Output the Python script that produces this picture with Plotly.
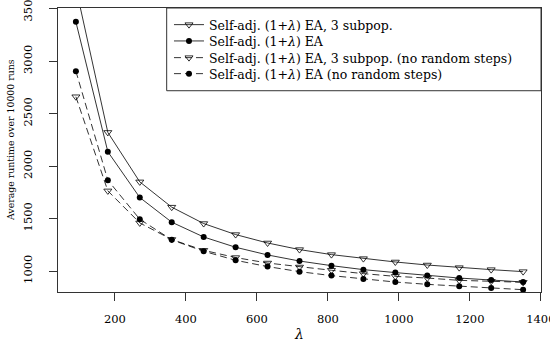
import plotly.graph_objects as go

# lambda values (population sizes)
lam = [90, 180, 270, 360, 450, 540, 630, 720, 810, 900, 990, 1080, 1170, 1260, 1350]

# average runtimes
sa_3sub = [3700, 2320, 1849, 1608, 1452, 1347, 1267, 1204, 1156, 1118, 1086, 1057, 1032, 1013, 994]
sa_ea = [3373, 2136, 1700, 1465, 1324, 1226, 1153, 1095, 1051, 1013, 985, 956, 933, 914, 895]
sa_3sub_norand = [2660, 1763, 1458, 1300, 1197, 1128, 1076, 1038, 1007, 975, 949, 933, 911, 902, 892]
sa_ea_norand = [2903, 1865, 1493, 1297, 1188, 1102, 1042, 994, 956, 924, 895, 873, 854, 838, 822]

names = [
    "Self-adj. (1+<i>λ</i>) EA, 3 subpop.",
    "Self-adj. (1+<i>λ</i>) EA",
    "Self-adj. (1+<i>λ</i>) EA, 3 subpop. (no random steps)",
    "Self-adj. (1+<i>λ</i>) EA (no random steps)",
]

SERIF = "DejaVu Serif"

tri = dict(symbol="triangle-down-open", size=7, color="black", line=dict(width=0.8))
dot = dict(symbol="circle", size=6, color="black")
solid = dict(color="black", width=0.8)
dashed = dict(color="black", width=0.8, dash="7px,4px")

fig = go.Figure()
fig.add_trace(go.Scatter(x=lam, y=sa_3sub, name=names[0], mode="lines+markers",
                         line=solid, marker=tri, legend="legend2"))
fig.add_trace(go.Scatter(x=lam, y=sa_ea, name=names[1], mode="lines+markers",
                         line=solid, marker=dot, legend="legend3"))
fig.add_trace(go.Scatter(x=lam, y=sa_3sub_norand, name=names[2], mode="lines+markers",
                         line=dashed, marker=tri, legend="legend4"))
fig.add_trace(go.Scatter(x=lam, y=sa_ea_norand, name=names[3], mode="lines+markers",
                         line=dashed, marker=dot, legend="legend5"))

# one legend per row so the rows sit as tight as in the original
leg = dict(x=0.2298, xanchor="left", yanchor="middle", borderwidth=0,
           bgcolor="rgba(0,0,0,0)", font=dict(family=SERIF, size=12.5))
row_y = [0.9401, 0.8827, 0.8239, 0.7676]

fig.update_layout(
    width=550,
    height=350,
    margin=dict(l=58, r=9, t=8, b=58),
    plot_bgcolor="white",
    paper_bgcolor="white",
    font=dict(family=SERIF, size=11.5, color="black"),
    legend2=dict(leg, y=row_y[0]),
    legend3=dict(leg, y=row_y[1]),
    legend4=dict(leg, y=row_y[2]),
    legend5=dict(leg, y=row_y[3]),
    shapes=[
        # legend frame
        dict(type="rect", xref="x domain", yref="y domain",
             x0=0.225, x1=1.0, y0=0.7087, y1=1.0,
             line=dict(color="#333", width=1), layer="above"),
    ],
    annotations=[
        # y axis title
        dict(text="Average runtime over 10000 runs", textangle=-90,
             xref="paper", yref="paper", x=-0.0994, y=0.535,
             xanchor="center", yanchor="middle", showarrow=False,
             font=dict(family=SERIF, size=9.4)),
    ],
)

fig.update_xaxes(
    range=[39.6, 1400.4],
    tickvals=[200, 400, 600, 800, 1000, 1200, 1400],
    ticks="outside", ticklen=8, tickcolor="#333",
    showline=True, linecolor="#333", linewidth=1, mirror=True,
    showgrid=False, zeroline=False, automargin=False,
    ticklabeloverflow="allow", ticklabelstandoff=8,
    title=dict(text="<i>λ</i>", standoff=4),
)
fig.update_yaxes(
    range=[800, 3505],
    tickvals=[1000, 1500, 2000, 2500, 3000, 3500],
    ticks="outside", ticklen=8, tickcolor="#333", tickangle=-90,
    showline=True, linecolor="#333", linewidth=1, mirror=True,
    showgrid=False, zeroline=False, automargin=False,
    ticklabeloverflow="allow", ticklabelstandoff=12,
)

# page body has an 8px default margin; drop it so the figure fills the window
fig.write_html("out.html", config={"displayModeBar": False},
               post_script="document.body.style.margin='0';")
